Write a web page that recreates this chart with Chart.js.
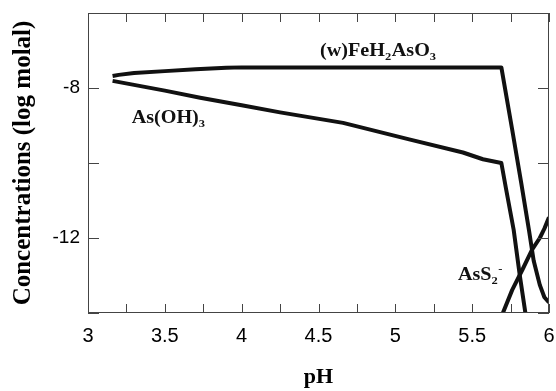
<!DOCTYPE html>
<html>
<head>
<meta charset="utf-8">
<script src="https://cdn.jsdelivr.net/npm/chart.js@4.4.1/dist/chart.umd.min.js"></script>
<style>
  html, body { margin: 0; padding: 0; background: #fff; }
  #wrap { width: 556px; height: 391px; }
</style>
</head>
<body>
<div id="wrap"><canvas id="grafico" width="556" height="391"></canvas></div>
<script>
// dados (pH x log molal)
const phFe   = [3.16, 3.2, 3.3, 3.5, 3.7, 3.9, 4.0, 4.5, 5.0, 5.5, 5.69, 5.76, 5.82, 5.87, 5.90, 5.94, 5.97, 6.0];
const concFe = [-7.68, -7.65, -7.6, -7.55, -7.5, -7.46, -7.45, -7.45, -7.45, -7.45, -7.45, -9.1, -10.55, -11.8, -12.6, -13.25, -13.58, -13.72];

const phAs   = [3.16, 3.5, 3.73, 4.0, 4.25, 4.66, 5.09, 5.44, 5.57, 5.69, 5.72, 5.77, 5.81, 5.85];
const concAs = [-7.81, -8.07, -8.26, -8.46, -8.65, -8.93, -9.37, -9.72, -9.9, -10.0, -10.68, -11.78, -13.0, -14.1];

const phS    = [5.68, 5.76, 5.83, 5.89, 5.94, 5.97, 6.0];
const concS  = [-14.2, -13.39, -12.82, -12.31, -12.0, -11.75, -11.45];

const xTicksLabel = [3, 3.5, 4, 4.5, 5, 5.5, 6];
const yTicksLabel = [-8, -12];

// rótulos das curvas (posição em coordenadas de dados)
const rotulos = [
  { x: 4.51, y: -7.14, partes: [["(w)FeH"], ["2", "sub"], ["AsO"], ["3", "sub"]] },
  { x: 3.284, y: -8.93, partes: [["As(OH)"], ["3", "sub"]] },
  { x: 5.407, y: -13.12, partes: [["AsS"], ["2", "sub"], ["-", "sup"]] }
];

function pontos(xs, ys) {
  return xs.map((x, i) => ({ x, y: ys[i] }));
}

const cor = "#111";
const serif = "'Liberation Serif', 'Times New Roman', serif";
const sans = "'Liberation Sans', Arial, Helvetica, sans-serif";

// moldura + ticks para dentro + rótulos
const molduraPlugin = {
  id: "moldura",
  afterDraw(chart) {
    const { ctx, chartArea: a, scales } = chart;
    const sx = scales.x, sy = scales.y;
    ctx.save();
    ctx.strokeStyle = "#444";
    ctx.lineWidth = 1;
    ctx.strokeRect(a.left + 0.5, a.top + 0.5, a.right - a.left - 1, a.bottom - a.top - 1);
    ctx.beginPath();
    for (let v = 3; v <= 6.0001; v += 0.25) {
      const px = Math.round(sx.getPixelForValue(v)) + 0.5;
      ctx.moveTo(px, a.bottom); ctx.lineTo(px, a.bottom - 9);
      ctx.moveTo(px, a.top); ctx.lineTo(px, a.top + 9);
    }
    for (let v = -14; v <= -6; v += 2) {
      const py = Math.round(sy.getPixelForValue(v)) + 0.5;
      ctx.moveTo(a.left, py); ctx.lineTo(a.left + 11, py);
      ctx.moveTo(a.right, py); ctx.lineTo(a.right - 11, py);
    }
    ctx.stroke();

    // rótulos das curvas
    const tam = 18, esc = 1.12;
    ctx.fillStyle = cor;
    ctx.textBaseline = "alphabetic";
    rotulos.forEach(r => {
      const px = sx.getPixelForValue(r.x);
      const py = sy.getPixelForValue(r.y);
      ctx.save();
      ctx.translate(px, py);
      ctx.scale(esc, 1);
      let cx = 0;
      r.partes.forEach(([t, tipo]) => {
        let f = tam, dy = 0;
        if (tipo === "sub") { f = tam * 0.62; dy = 4; }
        if (tipo === "sup") { f = tam * 0.62; dy = -8; }
        ctx.font = `bold ${f}px ${serif}`;
        ctx.fillText(t, cx, dy);
        cx += ctx.measureText(t).width + (tipo === "sub" ? 0.5 : 0);
      });
      ctx.restore();
    });
    ctx.restore();
  }
};

const ctx = document.getElementById("grafico").getContext("2d");
new Chart(ctx, {
  type: "scatter",
  data: {
    datasets: [
      { label: "(w)FeH2AsO3", data: pontos(phFe, concFe) },
      { label: "As(OH)3", data: pontos(phAs, concAs) },
      { label: "AsS2-", data: pontos(phS, concS) }
    ].map(d => ({
      ...d,
      showLine: true,
      borderColor: cor,
      backgroundColor: cor,
      borderWidth: 4,
      pointRadius: 0,
      borderJoinStyle: "round",
      tension: 0
    }))
  },
  options: {
    responsive: false,
    animation: false,
    layout: { padding: { top: 13, right: 7, left: 0, bottom: 0 } },
    plugins: { legend: { display: false }, tooltip: { enabled: false } },
    scales: {
      x: {
        type: "linear",
        min: 3, max: 6,
        afterFit: s => { s.height = 78; s.paddingLeft = 0; s.paddingRight = 0; },
        grid: { display: false, drawTicks: false },
        border: { display: false },
        ticks: {
          stepSize: 0.25,
          autoSkip: false,
          maxRotation: 0,
          padding: 11,
          color: "#000",
          font: { family: sans, size: 20 },
          callback: v => xTicksLabel.includes(Math.round(v * 100) / 100) ? String(Math.round(v * 100) / 100) : ""
        },
        title: {
          display: true,
          text: "pH",
          color: "#000",
          font: { family: serif, size: 22, weight: "bold" },
          padding: { top: 0, bottom: 0 }
        }
      },
      y: {
        min: -14, max: -6,
        afterFit: s => { s.width = 88; s.paddingTop = 0; s.paddingBottom = 0; },
        grid: { display: false, drawTicks: false },
        border: { display: false },
        ticks: {
          stepSize: 2,
          padding: 8,
          color: "#000",
          font: { family: sans, size: 19 },
          callback: v => yTicksLabel.includes(v) ? String(v) : ""
        },
        title: {
          display: true,
          text: "Concentrations (log molal)",
          color: "#000",
          font: { family: serif, size: 25, weight: "bold" },
          padding: { top: 9, bottom: 0 }
        }
      }
    }
  },
  plugins: [molduraPlugin]
});
</script>
</body>
</html>
